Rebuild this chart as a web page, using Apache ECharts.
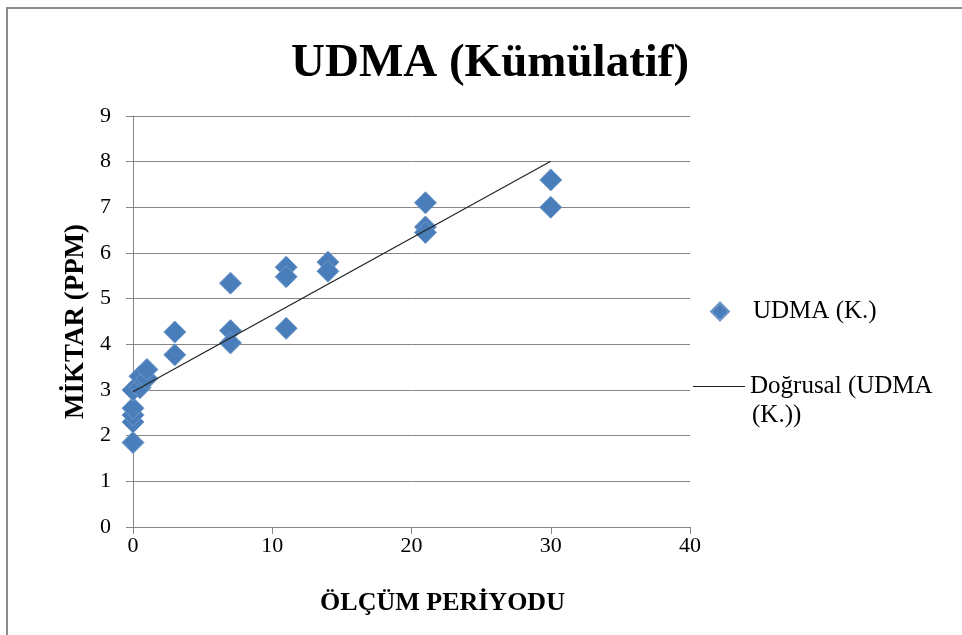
<!DOCTYPE html>
<html>
<head>
<meta charset="utf-8">
<style>
  html, body { margin: 0; padding: 0; background: #fff; }
  #chart { width: 962px; height: 635px; }
</style>
<script src="https://cdn.jsdelivr.net/npm/echarts@6/dist/echarts.min.js"></script>
</head>
<body>
<div id="chart"></div>
<script>
// ölçüm verileri (gözle okundu)
const periodX = [0, 0, 0, 0, 0, 0.5, 0.5, 1, 1, 3, 3, 7, 7, 7, 11, 11, 11, 14, 14, 21, 21, 21, 30, 30];
const amountY = [1.85, 2.3, 2.45, 2.6, 3.0, 3.05, 3.3, 3.25, 3.45, 4.27, 3.77, 5.34, 4.3, 4.03, 5.69, 5.48, 4.35, 5.8, 5.6, 7.1, 6.57, 6.45, 7.6, 7.0];

// doğrusal eğilim çizgisinin uçları
const trendX = [0, 30];
const trendY = [2.96, 8.01];

const font = "'Liberation Serif', 'Times New Roman', serif";
const gray = '#868686';

const chart = echarts.init(document.getElementById('chart'));

const option = {
  backgroundColor: '#fff',
  animation: false,
  title: {
    text: 'UDMA (Kümülatif)',
    left: 286,
    top: 35,
    textStyle: { fontFamily: font, fontSize: 47, fontWeight: 'bold', color: '#000' }
  },
  graphic: [
    {
      type: 'rect',
      shape: { x: 7, y: 8, width: 1000, height: 700 },
      style: { fill: 'none', stroke: '#8c8c8c', lineWidth: 2 },
      silent: true
    },
    {
      type: 'text',
      left: 752,
      top: 403,
      style: { text: '(K.))', font: '25px ' + font, fill: '#000' }
    }
  ],
  legend: [
    {
      data: [{ name: 'UDMA (K.)', icon: 'diamond' }],
      orient: 'vertical',
      left: 705,
      top: 294,
      itemWidth: 18,
      itemHeight: 18,
      textStyle: { fontFamily: font, fontSize: 25, color: '#000', padding: [0, 0, 0, 19] }
    },
    {
      data: [{ name: 'Doğrusal (UDMA (K.))', icon: 'rect' }],
      orient: 'vertical',
      left: 688,
      top: 369,
      itemWidth: 52,
      itemHeight: 1,
      formatter: () => 'Doğrusal (UDMA',
      textStyle: { fontFamily: font, fontSize: 25, color: '#000' }
    }
  ],
  grid: { left: 133, right: 272, top: 116, bottom: 108 },
  xAxis: {
    type: 'value',
    min: 0,
    max: 40,
    interval: 10,
    name: 'ÖLÇÜM PERİYODU',
    nameLocation: 'middle',
    nameGap: 63,
    nameTextStyle: { fontFamily: font, fontSize: 26, fontWeight: 'bold', color: '#000', padding: [0, 0, 0, 62] },
    axisLine: { show: true, lineStyle: { color: gray } },
    axisTick: { show: true, inside: false, length: 7, lineStyle: { color: gray } },
    axisLabel: { fontFamily: font, fontSize: 22, color: '#000', margin: 8 },
    splitLine: { show: false }
  },
  yAxis: {
    type: 'value',
    min: 0,
    max: 9,
    interval: 1,
    name: 'MİKTAR (PPM)',
    nameLocation: 'middle',
    nameGap: 43,
    nameTextStyle: { fontFamily: font, fontSize: 27, fontWeight: 'bold', color: '#000' },
    axisLine: { show: true, lineStyle: { color: gray } },
    axisTick: { show: true, inside: false, length: 7, lineStyle: { color: gray } },
    axisLabel: { fontFamily: font, fontSize: 22, color: '#000', margin: 22 },
    splitLine: { show: true, lineStyle: { color: gray, width: 1 } }
  },
  series: [
    {
      name: 'UDMA (K.)',
      type: 'scatter',
      symbol: 'diamond',
      symbolSize: 22,
      data: periodX.map((x, i) => [x, amountY[i]]),
      itemStyle: { color: '#4a7ebb', borderColor: '#6f98c8', borderWidth: 1, opacity: 1 },
      z: 2
    },
    {
      name: 'Doğrusal (UDMA (K.))',
      type: 'line',
      symbol: 'none',
      data: trendX.map((x, i) => [x, trendY[i]]),
      lineStyle: { color: '#222', width: 1.2 },
      itemStyle: { color: '#222' },
      z: 3
    }
  ]
};

chart.setOption(option);
window.addEventListener('resize', () => chart.resize());
</script>
</body>
</html>
